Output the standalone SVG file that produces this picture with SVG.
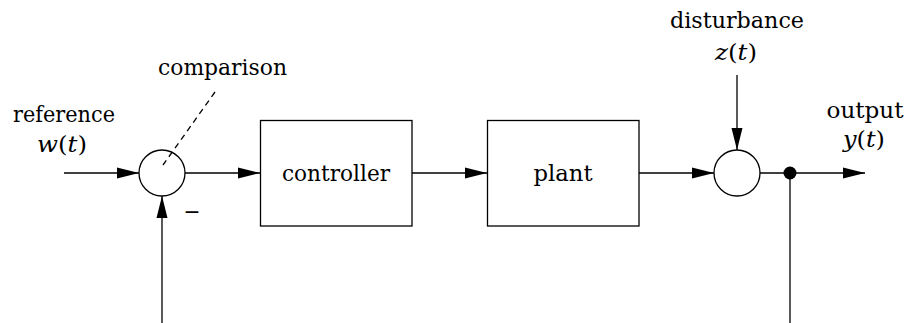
<svg xmlns="http://www.w3.org/2000/svg" width="906" height="323" viewBox="0 0 906 323">
<style>
.ln{fill:none;stroke:#000;stroke-width:1.3}
.bx{fill:none;stroke:#000;stroke-width:1.3}
.t{font-family:'DejaVu Serif','Noto Serif',serif;font-size:22px;fill:#000;text-anchor:middle}
.i{font-style:italic}
.arr{marker-end:url(#ah)}
</style>
<defs>
<marker id="ah" markerUnits="userSpaceOnUse" markerWidth="22" markerHeight="11" refX="22" refY="5.5" orient="auto" overflow="visible">
<path d="M0,0 L22,5.5 L0,11 Z" fill="#000"/>
</marker>
</defs>
<rect width="906" height="323" fill="#fff"/>
<g id="connectors">
<line class="ln arr" x1="64" y1="173" x2="139" y2="173"/>
<line class="ln arr" x1="185" y1="173" x2="260" y2="173"/>
<line class="ln arr" x1="412" y1="173" x2="487" y2="173"/>
<line class="ln arr" x1="639" y1="173" x2="714" y2="173"/>
<line class="ln arr" x1="760" y1="173" x2="865" y2="173"/>
<line class="ln arr" x1="737" y1="75" x2="737" y2="150"/>
<line class="ln" x1="790" y1="173" x2="790" y2="323"/>
<line class="ln arr" x1="162" y1="323" x2="162" y2="196"/>
<line class="ln" x1="215" y1="92" x2="163" y2="165" stroke-dasharray="6 4.5"/>
</g>
<g id="comparison-sum">
<circle class="bx" cx="162" cy="173" r="23"/>
<text class="t" x="192" y="219" textLength="17" lengthAdjust="spacingAndGlyphs">−</text>
</g>
<g id="controller">
<rect class="bx" x="260.5" y="120.5" width="151.5" height="105.5"/>
<text class="t" x="336" y="181" textLength="108" lengthAdjust="spacingAndGlyphs">controller</text>
</g>
<g id="plant">
<rect class="bx" x="487.5" y="120.5" width="151.5" height="105.5"/>
<text class="t" x="563" y="181" textLength="59" lengthAdjust="spacingAndGlyphs">plant</text>
</g>
<g id="disturbance-sum">
<circle class="bx" cx="737" cy="173" r="23"/>
</g>
<g id="branch-point">
<circle cx="790" cy="173" r="6.5" fill="#000"/>
</g>
<g id="label-comparison">
<text class="t" x="222.5" y="75" textLength="129" lengthAdjust="spacingAndGlyphs">comparison</text>
</g>
<g id="label-reference">
<text class="t" x="64" y="122" textLength="102" lengthAdjust="spacingAndGlyphs">reference</text>
<text class="t" x="62" y="152" textLength="50" lengthAdjust="spacingAndGlyphs"><tspan class="i">w</tspan>(<tspan class="i">t</tspan>)</text>
</g>
<g id="label-disturbance">
<text class="t" x="737" y="28" textLength="134" lengthAdjust="spacingAndGlyphs">disturbance</text>
<text class="t" x="736" y="60" textLength="42" lengthAdjust="spacingAndGlyphs"><tspan class="i">z</tspan>(<tspan class="i">t</tspan>)</text>
</g>
<g id="label-output">
<text class="t" x="865" y="118" textLength="77" lengthAdjust="spacingAndGlyphs">output</text>
<text class="t" x="864" y="147" textLength="42" lengthAdjust="spacingAndGlyphs"><tspan class="i">y</tspan>(<tspan class="i">t</tspan>)</text>
</g>
</svg>
